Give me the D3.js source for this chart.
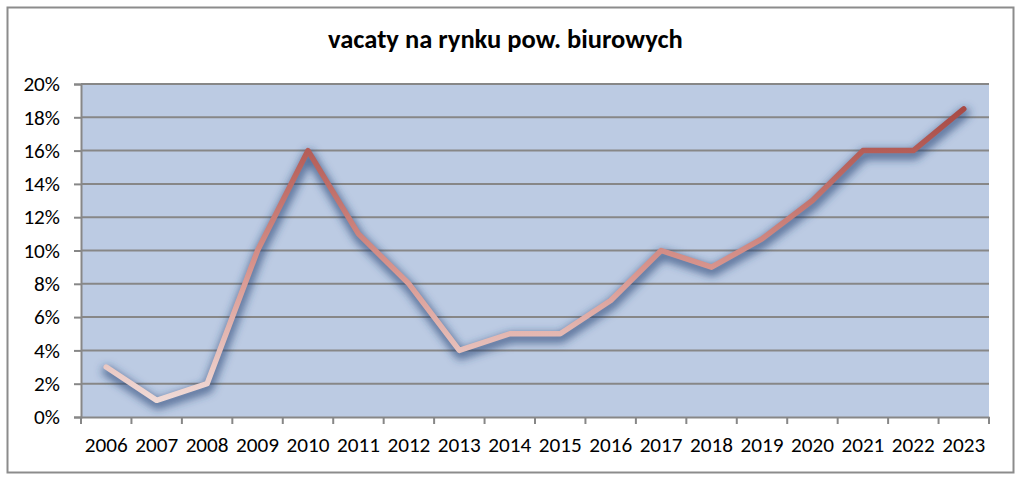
<!DOCTYPE html>
<html><head><meta charset="utf-8">
<script src="https://cdn.jsdelivr.net/npm/d3@7"></script>
<style>body{margin:0;background:#fff}svg{display:block}</style>
</head><body>
<svg id="c" width="1024" height="479"></svg>
<script>
const years = ["2006","2007","2008","2009","2010","2011","2012","2013","2014","2015","2016","2017","2018","2019","2020","2021","2022","2023"];
const vacancy = [3,1,2,10,16,11,8,4,5,5,7,10,9,10.7,13,16,16,18.5];
const yTicks = [0,2,4,6,8,10,12,14,16,18,20];
const title = "vacaty na rynku pow. biurowych";

const svg = d3.select("#c");
const font = "Carlito, Calibri, 'Open Sans', sans-serif";
const m = {l:81, r:989, t:84, b:417};

svg.append("rect").attr("x",7.5).attr("y",7.5).attr("width",1006).attr("height",465)
  .attr("fill","#fff").attr("stroke","#8c8c8c").attr("stroke-width",2);

const x = d3.scaleBand().domain(years).range([m.l,m.r]);
const y = d3.scaleLinear().domain([0,20]).range([m.b,m.t]);

const defs = svg.append("defs");
const grad = defs.append("linearGradient").attr("id","lg").attr("gradientUnits","userSpaceOnUse")
  .attr("x1",0).attr("y1",y(1)).attr("x2",0).attr("y2",y(18.5));
grad.append("stop").attr("offset",0).attr("stop-color","#f0dad6");
grad.append("stop").attr("offset",0.45).attr("stop-color","#d8958e");
grad.append("stop").attr("offset",1).attr("stop-color","#a84a45");
const f = defs.append("filter").attr("id","bl").attr("filterUnits","userSpaceOnUse")
  .attr("x",0).attr("y",0).attr("width",1024).attr("height",479);
f.append("feGaussianBlur").attr("stdDeviation",4);

svg.append("rect").attr("x",m.l).attr("y",m.t).attr("width",m.r-m.l).attr("height",m.b-m.t).attr("fill","#bccbe3");

// grid
svg.append("g").selectAll("line").data(yTicks.filter(d=>d>0)).join("line")
  .attr("x1",m.l).attr("x2",m.r).attr("y1",d=>y(d)).attr("y2",d=>y(d))
  .attr("stroke","#878787").attr("stroke-width",2);

// y axis
const ya = svg.append("g").attr("transform",`translate(${m.l},0)`)
  .call(d3.axisLeft(y).tickValues(yTicks).tickFormat(d=>d+"%").tickSize(7).tickPadding(14));
ya.select(".domain").attr("stroke","#878787").attr("stroke-width",2);
ya.selectAll(".tick line").attr("stroke","#878787").attr("stroke-width",2);
ya.selectAll("text").attr("font-family",font).attr("font-size",18.5).attr("fill","#000");

// x axis
const xa = svg.append("g").attr("transform",`translate(0,${m.b})`)
  .call(d3.axisBottom(x).tickSize(0).tickPadding(20));
xa.select(".domain").attr("stroke","#878787").attr("stroke-width",2);
xa.selectAll("text").attr("font-family",font).attr("font-size",18.5).attr("fill","#000");
const bounds = years.map(d=>x(d)).concat([m.r]);
xa.append("g").selectAll("line").data(bounds).join("line")
  .attr("x1",d=>d).attr("x2",d=>d).attr("y1",0).attr("y2",7)
  .attr("stroke","#878787").attr("stroke-width",2);

// fit label widths
const t0 = xa.select(".tick text").node();
const w0 = t0.getComputedTextLength();
const fs = 18.5*43/w0;
xa.selectAll("text").attr("font-size",fs);
ya.selectAll("text").attr("font-size",fs);

// line + shadow
const line = d3.line().x((d,i)=>x(years[i])+x.bandwidth()/2).y(d=>y(d));
svg.append("g").attr("filter","url(#bl)").append("path").datum(vacancy).attr("d",line).attr("fill","none")
  .attr("transform","translate(1,4)")
  .attr("stroke","#2a4676").attr("stroke-opacity",0.7).attr("stroke-width",10)
  .attr("stroke-linejoin","round").attr("stroke-linecap","round");
svg.append("path").datum(vacancy).attr("d",line).attr("fill","none")
  .attr("stroke","url(#lg)").attr("stroke-width",5.5).attr("stroke-linejoin","round").attr("stroke-linecap","round");

const tt = svg.append("text").attr("x",505.5).attr("y",48).attr("text-anchor","middle")
  .attr("font-family",font).attr("font-weight","bold").attr("font-size",21).attr("fill","#000").text(title);
const tw = tt.node().getComputedTextLength();
tt.attr("font-size",21*355/tw);
</script>
</body></html>
